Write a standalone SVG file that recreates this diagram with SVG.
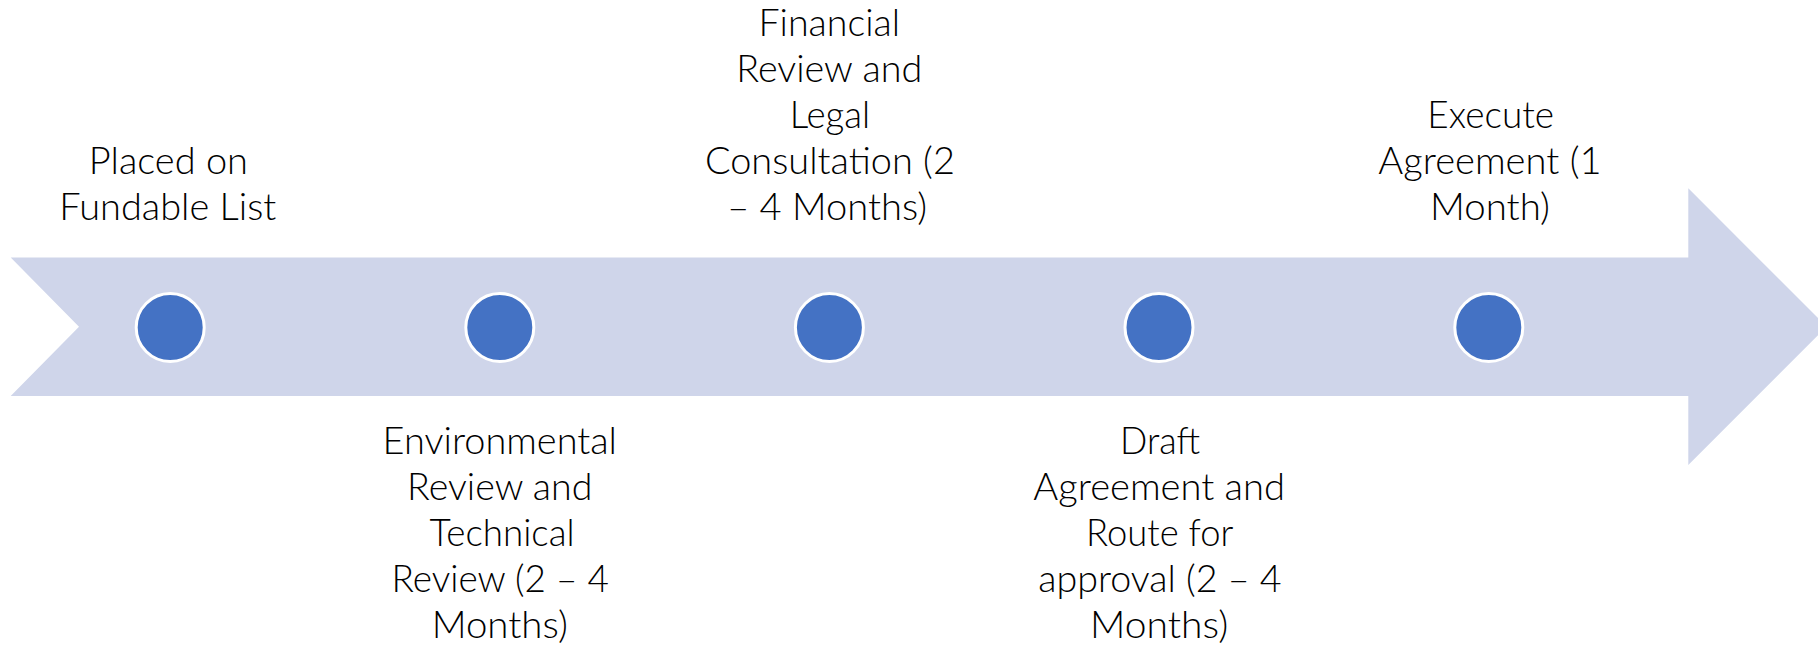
<svg xmlns="http://www.w3.org/2000/svg" width="1818" height="647" viewBox="0 0 1818 647">
<style>
.lbl{font-family:Lato,"Open Sans","Liberation Sans",sans-serif;font-weight:300;font-size:38px;fill:#000}
.dot{fill:#4472C4;stroke:#FFFFFF;stroke-width:3}
</style>
<rect width="1818" height="647" fill="#FFFFFF"/>
<g id="connectors">
<path d="M10.7,257.5 L1688.3,257.5 L1688.3,188.3 L1826.6,326.7 L1688.3,465 L1688.3,396 L10.7,396 L79,326.7 Z" fill="#CFD5EA"/>
</g>
<g id="node1">
<circle class="dot" cx="170.2" cy="327.5" r="34"/>
<text class="lbl"><tspan x="88.8" y="174" textLength="159.2" lengthAdjust="spacingAndGlyphs">Placed on</tspan><tspan x="59.3" y="220" textLength="217" lengthAdjust="spacingAndGlyphs">Fundable List</tspan></text>
</g>
<g id="node2">
<circle class="dot" cx="499.8" cy="327.5" r="34"/>
<text class="lbl"><tspan x="382.6" y="454" textLength="234.4" lengthAdjust="spacingAndGlyphs">Environmental</tspan><tspan x="407.1" y="500" textLength="185.3" lengthAdjust="spacingAndGlyphs">Review and</tspan><tspan x="429.5" y="546" textLength="145.1" lengthAdjust="spacingAndGlyphs">Technical</tspan><tspan x="391.5" y="592" textLength="217.4" lengthAdjust="spacingAndGlyphs">Review (2 – 4</tspan><tspan x="431.7" y="638" textLength="136.2" lengthAdjust="spacingAndGlyphs">Months)</tspan></text>
</g>
<g id="node3">
<circle class="dot" cx="829.4" cy="327.5" r="34"/>
<text class="lbl"><tspan x="758.5" y="36" textLength="141.5" lengthAdjust="spacingAndGlyphs">Financial</tspan><tspan x="736.2" y="82" textLength="186" lengthAdjust="spacingAndGlyphs">Review and</tspan><tspan x="789.7" y="128" textLength="80.4" lengthAdjust="spacingAndGlyphs">Legal</tspan><tspan x="704.9" y="174" textLength="250" lengthAdjust="spacingAndGlyphs">Consultation (2</tspan><tspan x="727.2" y="220" textLength="200" lengthAdjust="spacingAndGlyphs">– 4 Months)</tspan></text>
</g>
<g id="node4">
<circle class="dot" cx="1159" cy="327.5" r="34"/>
<text class="lbl"><tspan x="1120" y="454" textLength="80" lengthAdjust="spacingAndGlyphs">Draft</tspan><tspan x="1033.3" y="500" textLength="251.7" lengthAdjust="spacingAndGlyphs">Agreement and</tspan><tspan x="1086" y="546" textLength="147.3" lengthAdjust="spacingAndGlyphs">Route for</tspan><tspan x="1038.3" y="592" textLength="243.3" lengthAdjust="spacingAndGlyphs">approval (2 – 4</tspan><tspan x="1090" y="638" textLength="138.3" lengthAdjust="spacingAndGlyphs">Months)</tspan></text>
</g>
<g id="node5">
<circle class="dot" cx="1488.8" cy="327.5" r="34"/>
<text class="lbl"><tspan x="1427.3" y="128" textLength="126.7" lengthAdjust="spacingAndGlyphs">Execute</tspan><tspan x="1378.3" y="174" textLength="223.3" lengthAdjust="spacingAndGlyphs">Agreement (1</tspan><tspan x="1430" y="220" textLength="120" lengthAdjust="spacingAndGlyphs">Month)</tspan></text>
</g>
</svg>
